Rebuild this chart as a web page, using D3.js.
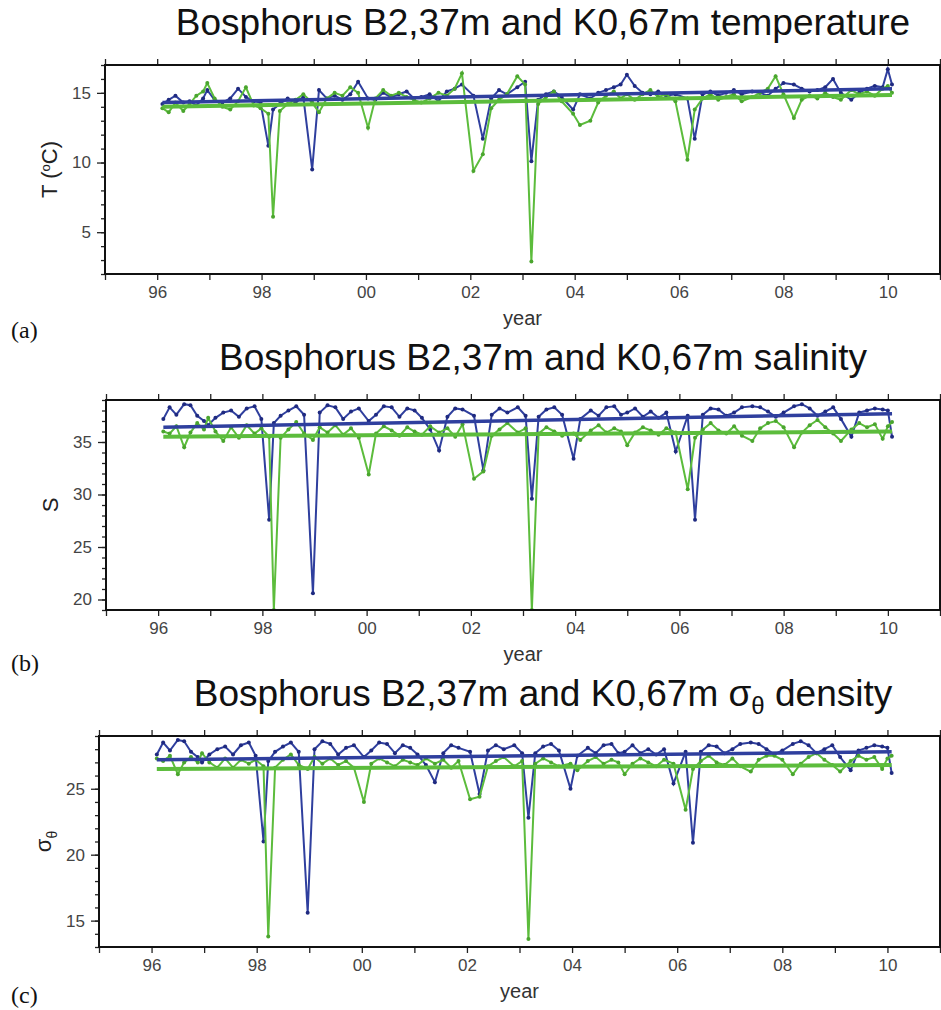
<!DOCTYPE html>
<html><head><meta charset="utf-8">
<script src="https://cdn.jsdelivr.net/npm/d3@7"></script>
<style>body{margin:0;background:#fff}svg{display:block}</style>
</head><body><svg id="chart" width="941" height="1010"></svg>
<script>
// ---------- DATA ----------
const years = [1996.10,1996.22,1996.35,1996.50,1996.62,1996.75,1996.88,1996.96,
1997.10,1997.25,1997.40,1997.55,1997.70,1997.85,1997.98,
1998.13,1998.22,1998.35,1998.50,1998.65,1998.80,1998.97,
1999.10,1999.25,1999.40,1999.55,1999.70,1999.85,
2000.04,2000.18,2000.33,2000.48,2000.63,2000.78,2000.92,
2001.06,2001.22,2001.39,2001.55,2001.70,2001.84,
2002.06,2002.24,2002.40,2002.55,2002.70,2002.90,2003.05,
2003.17,2003.30,2003.45,2003.60,2003.75,2003.97,
2004.10,2004.30,2004.45,2004.60,2004.75,2004.88,2005.00,
2005.15,2005.30,2005.45,2005.60,2005.75,2005.93,
2006.16,2006.30,2006.45,2006.60,2006.75,2006.90,
2007.05,2007.20,2007.40,2007.55,2007.70,2007.85,
2008.00,2008.20,2008.35,2008.50,2008.65,2008.80,2008.95,
2009.10,2009.30,2009.45,2009.60,2009.75,2009.90,2010.00,2010.08];

const tempB2 = [14.2,14.5,14.8,14.3,14.4,14.1,14.6,15.2,
14.5,14.3,14.6,15.3,14.7,14.4,14.3,
11.2,13.8,14.2,14.6,14.3,14.7,9.5,
15.2,14.6,14.8,14.5,14.9,15.8,
14.6,14.5,15.0,14.7,14.9,15.1,14.6,
14.7,14.9,14.4,15.1,15.3,15.6,
14.8,11.7,14.6,15.2,14.9,15.4,15.8,
10.1,14.5,14.9,15.1,14.7,13.8,
14.9,14.6,15.0,15.2,15.4,15.6,16.3,
15.5,15.0,14.9,15.1,14.8,14.9,
14.6,11.7,14.9,15.1,14.8,15.0,
15.2,14.9,15.1,15.0,14.8,15.3,
15.7,15.6,15.3,15.1,15.2,15.4,16.0,
15.0,14.5,15.0,15.3,15.5,15.4,16.7,15.6];

const tempK0 = [13.9,13.6,14.3,13.7,14.2,14.8,15.1,15.7,
14.6,14.0,13.8,14.4,15.4,14.1,13.9,
13.5,6.1,13.7,14.2,14.5,14.9,14.3,
13.6,14.6,15.0,14.8,15.4,15.0,
12.5,14.6,15.2,14.8,15.0,14.7,14.5,
14.3,14.6,15.0,14.8,15.3,16.4,
9.4,10.6,13.9,14.5,14.9,16.2,15.6,
2.9,14.2,14.7,15.1,14.4,13.5,
12.7,13.0,14.3,14.8,15.1,14.6,14.9,
14.5,14.9,15.2,14.7,14.9,14.4,
10.2,13.8,14.6,14.9,14.5,14.7,
14.9,14.4,14.7,15.0,15.3,16.2,
14.9,13.2,14.5,14.8,14.6,15.0,14.7,
14.5,15.2,14.9,15.1,14.8,15.3,15.5,15.0];

const salB2 = [37.2,38.3,37.6,38.6,38.5,37.5,37.0,36.6,
37.3,37.8,38.0,37.4,38.2,38.4,37.2,
27.6,36.8,37.5,38.0,38.4,37.6,20.6,
37.8,38.5,38.3,37.2,37.9,38.2,
37.0,37.6,38.4,38.3,37.4,38.2,38.0,
37.3,36.2,34.2,37.4,38.2,38.1,
37.5,32.3,37.6,38.2,37.8,38.3,37.5,
29.6,37.4,38.1,38.3,37.6,33.4,
37.2,38.0,37.5,38.3,38.4,37.6,37.8,
38.2,37.4,37.9,37.3,37.8,34.1,
37.5,27.6,37.6,38.2,38.1,37.5,
37.8,38.3,38.4,38.3,37.9,37.4,
37.8,38.4,38.6,38.2,37.5,37.9,38.3,
37.2,35.5,37.8,38.0,38.2,38.1,38.0,35.5];

const salK0 = [36.0,35.8,36.5,34.5,35.9,36.8,36.2,37.3,
36.0,35.1,36.4,35.4,36.6,35.8,36.3,
35.5,19.0,35.4,36.2,36.9,35.8,35.2,
36.4,35.9,36.6,35.7,36.3,35.4,
31.9,35.8,36.5,36.1,35.6,36.4,36.0,
35.7,36.5,35.9,36.3,35.5,36.7,
31.5,32.2,35.6,36.2,36.8,35.9,36.3,
19.0,35.8,36.4,36.0,35.6,35.8,
35.2,36.1,36.6,35.9,36.3,36.0,34.7,
35.9,36.4,36.1,35.7,36.3,35.9,
30.5,35.4,36.2,36.8,36.1,35.8,
36.5,35.6,35.1,36.3,36.8,37.0,
36.4,34.5,35.9,36.6,37.1,36.4,35.8,
35.1,36.2,36.8,36.4,36.7,35.3,36.5,36.9];

const sigB2 = [27.6,28.5,27.9,28.7,28.6,27.8,27.4,27.0,
27.6,28.0,28.2,27.6,28.3,28.5,27.5,
21.0,27.1,27.8,28.2,28.5,27.8,15.6,
28.0,28.6,28.4,27.6,28.1,28.3,
27.4,27.9,28.5,28.4,27.7,28.3,28.1,
27.6,26.8,25.5,27.7,28.3,28.1,
27.8,24.6,27.9,28.3,28.0,28.3,27.7,
22.8,27.7,28.2,28.4,27.9,25.0,
27.5,28.1,27.7,28.3,28.4,27.7,27.8,
28.3,27.7,28.0,27.6,28.0,25.4,
27.8,20.9,27.8,28.3,28.2,27.7,
28.0,28.4,28.5,28.4,28.0,27.6,
27.9,28.4,28.6,28.3,27.7,28.0,28.3,
27.4,26.4,27.9,28.1,28.3,28.2,28.1,26.2];

const sigK0 = [27.3,27.1,27.5,26.1,27.0,27.4,27.0,27.7,
27.0,26.6,27.3,26.6,27.2,26.9,27.2,
26.7,13.8,26.6,27.2,27.6,26.8,26.5,
27.4,26.9,27.3,26.8,27.1,26.6,
24.0,26.9,27.3,27.0,26.7,27.2,27.0,
26.8,27.3,26.9,27.2,26.6,27.1,
24.2,24.4,26.7,27.1,27.4,26.7,27.1,
13.6,26.9,27.3,27.0,26.7,26.9,
26.4,27.1,27.4,26.9,27.2,27.0,26.1,
26.9,27.3,27.0,26.7,27.2,26.9,
23.4,26.5,27.1,27.5,27.0,26.8,
27.3,26.7,26.3,27.2,27.5,27.5,
27.2,26.1,26.9,27.4,27.7,27.2,26.8,
26.3,27.1,27.5,27.2,27.4,26.5,27.3,27.5];

// linear trend end points
const trendYears = [1996.10, 2010.08];
const tempTrendB2 = [14.3, 15.3];
const tempTrendK0 = [14.0, 14.85];
const salTrendB2 = [36.4, 37.7];
const salTrendK0 = [35.5, 36.0];
const sigTrendB2 = [27.2, 27.8];
const sigTrendK0 = [26.5, 26.8];

// ticks
const yearTicks = [1995,1996,1997,1998,1999,2000,2001,2002,2003,2004,2005,2006,2007,2008,2009,2010,2011];
const yearLabelYears = [1996,1998,2000,2002,2004,2006,2008,2010];
const yearLabels = ["96","98","00","02","04","06","08","10"];
const tempTicks = [5,10,15];
const salTicks = [20,25,30,35];
const sigTicks = [15,20,25];

// ---------- DRAW ----------
const svg = d3.select("#chart");
const BLUE = "#2f3f9e", GREEN = "#5cbc3c";
const labelOf = new Map(yearLabelYears.map((y,i)=>[y, yearLabels[i]]));

const panels = [
  {id:"a", top:65, bottom:274, left:105, right:940, domain:[2,17], ticks:tempTicks,
   b2:tempB2, k0:tempK0, tb2:tempTrendB2, tk0:tempTrendK0, tag:"(a)", tagY:330,
   title:"Bosphorus B2,37m and K0,67m temperature", ylabel:"T"},
  {id:"b", top:400, bottom:610, left:106, right:940, domain:[19,39], ticks:salTicks,
   b2:salB2, k0:salK0, tb2:salTrendB2, tk0:salTrendK0, tag:"(b)", tagY:663,
   title:"Bosphorus B2,37m and K0,67m salinity", ylabel:"S"},
  {id:"c", top:736, bottom:947, left:99, right:940, domain:[13,29], ticks:sigTicks,
   b2:sigB2, k0:sigK0, tb2:sigTrendB2, tk0:sigTrendK0, tag:"(c)", tagY:995,
   title:"sigma", ylabel:"sigma"}
];

panels.forEach(p => {
  const x = d3.scaleLinear().domain([1995, 2011]).range([p.left, p.right]);
  const y = d3.scaleLinear().domain(p.domain).range([p.bottom, p.top]);
  const g = svg.append("g");
  const cx = (p.left + p.right) / 2;

  g.append("clipPath").attr("id", "clip" + p.id)
    .append("rect").attr("x", p.left).attr("y", p.top)
    .attr("width", p.right - p.left).attr("height", p.bottom - p.top);

  // title
  const t = g.append("text").attr("x", 543).attr("y", p.top - 30)
    .attr("text-anchor", "middle")
    .style("font-family", "'Liberation Sans', Arial, sans-serif")
    .style("font-size", "37px").attr("fill", "#111");
  if (p.id === "c") {
    t.append("tspan").text("Bosphorus B2,37m and K0,67m \u03C3");
    t.append("tspan").text("\u03B8").attr("dy", 8).style("font-size", "24px");
    t.append("tspan").text(" density").attr("dy", -8);
  } else t.text(p.title);

  const minor = d3.range(Math.ceil(p.domain[0]), p.domain[1] + 1);
  const style = sel => {
    sel.select(".domain").remove();
    sel.selectAll("line").attr("stroke", "#222").attr("stroke-width", 1.3);
    sel.selectAll("text").style("font-family", "'Liberation Sans', Arial, sans-serif")
      .style("font-size", "17px").attr("fill", "#444");
  };
  // x axes (bottom labelled, top ticks only)
  g.append("g").attr("transform", `translate(0,${p.bottom})`)
    .call(d3.axisBottom(x).tickValues(yearTicks).tickSize(6).tickPadding(6)
      .tickFormat(d => labelOf.get(d) || "")).call(style);
  g.append("g").attr("transform", `translate(0,${p.top})`)
    .call(d3.axisTop(x).tickValues(yearTicks).tickSize(6).tickFormat("")).call(style);
  // y axes
  g.append("g").attr("transform", `translate(${p.left},0)`)
    .call(d3.axisLeft(y).tickValues(minor).tickSize(4).tickFormat("")).call(style);
  g.append("g").attr("transform", `translate(${p.left},0)`)
    .call(d3.axisLeft(y).tickValues(p.ticks).tickSize(8).tickPadding(6)).call(style);
  g.append("g").attr("transform", `translate(${p.right},0)`)
    .call(d3.axisRight(y).tickValues(minor).tickSize(4).tickFormat("")).call(style);

  // year label
  g.append("text").attr("x", cx).attr("y", p.bottom + 51).attr("text-anchor", "middle")
    .style("font-family", "'Liberation Sans', Arial, sans-serif").style("font-size", "20px")
    .attr("fill", "#333").text("year");
  // panel tag
  g.append("text").attr("x", 11).attr("y", p.tagY + 8)
    .style("font-family", "'Liberation Serif', 'Times New Roman', serif").style("font-size", "24px")
    .attr("fill", "#111").text(p.tag);
  // y label
  const yl = g.append("text").attr("transform", `translate(${p.left - 48},${(p.top + p.bottom) / 2}) rotate(-90)`)
    .attr("text-anchor", "middle")
    .style("font-family", "'Liberation Sans', Arial, sans-serif").style("font-size", "22px").attr("fill", "#222");
  if (p.id === "a") {
    yl.append("tspan").text("T (");
    yl.append("tspan").text("o").attr("dy", -7).style("font-size", "13px");
    yl.append("tspan").text("C)").attr("dy", 7);
  } else if (p.id === "b") {
    yl.text("S");
  } else {
    yl.append("tspan").text("\u03C3");
    yl.append("tspan").text("\u03B8").attr("dy", 6).style("font-size", "14px");
  }

  // data
  const plot = g.append("g").attr("clip-path", `url(#clip${p.id})`);
  const line = d3.line().x(d => x(d[0])).y(d => y(d[1]));
  const sB = years.map((yr, i) => [yr, p.b2[i]]);
  const sK = years.map((yr, i) => [yr, p.k0[i]]);
  plot.append("path").datum(sB).attr("d", line).attr("fill", "none")
    .attr("stroke", BLUE).attr("stroke-width", 2);
  plot.selectAll(".db").data(sB).join("circle").attr("cx", d => x(d[0])).attr("cy", d => y(d[1]))
    .attr("r", 2).attr("fill", "#1f2a80");
  plot.append("path").datum(sK).attr("d", line).attr("fill", "none")
    .attr("stroke", GREEN).attr("stroke-width", 2);
  plot.selectAll(".dk").data(sK).join("circle").attr("cx", d => x(d[0])).attr("cy", d => y(d[1]))
    .attr("r", 2).attr("fill", "#4aa52e");
  plot.append("path").datum(trendYears.map((yr, i) => [yr, p.tb2[i]])).attr("d", line)
    .attr("fill", "none").attr("stroke", BLUE).attr("stroke-width", 3.5);
  plot.append("path").datum(trendYears.map((yr, i) => [yr, p.tk0[i]])).attr("d", line)
    .attr("fill", "none").attr("stroke", GREEN).attr("stroke-width", 4);

  // frame
  g.append("rect").attr("x", p.left).attr("y", p.top)
    .attr("width", p.right - p.left).attr("height", p.bottom - p.top)
    .attr("fill", "none").attr("stroke", "#111").attr("stroke-width", 2);
});
</script></body></html>
